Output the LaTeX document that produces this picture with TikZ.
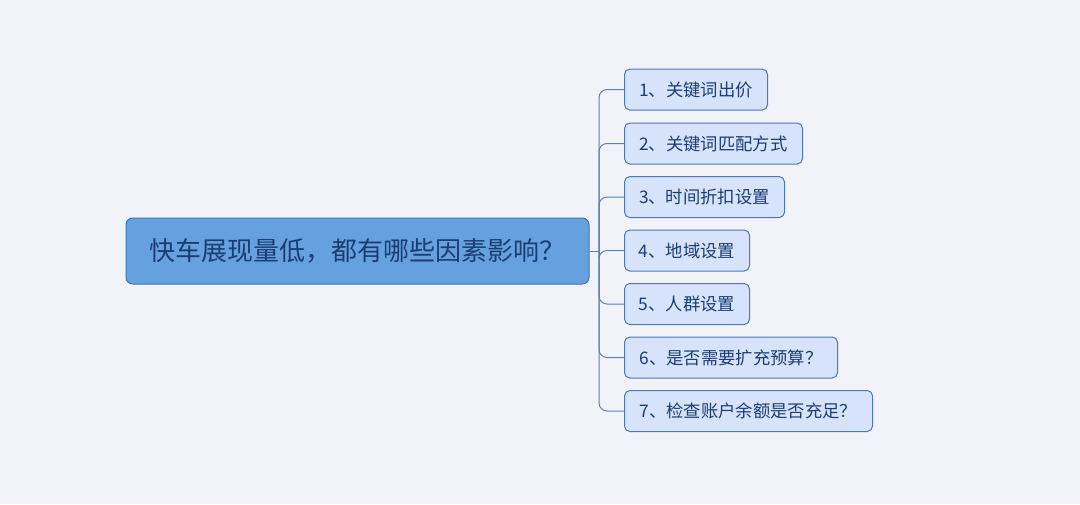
\documentclass[tikz,border=0pt]{standalone}
\usepackage{fontspec}
\setmainfont{Noto Sans CJK SC}
\usetikzlibrary{positioning}
\definecolor{bgcol}{HTML}{F2F3F8}
\definecolor{rootfill}{HTML}{64A1DE}
\definecolor{rootline}{HTML}{3F72B0}
\definecolor{leaffill}{HTML}{D6E3FA}
\definecolor{leafline}{HTML}{4C79B6}
\definecolor{textcol}{HTML}{1C3D72}
\definecolor{linkcol}{HTML}{5B80AE}

\begin{document}
\begin{tikzpicture}[x=0.75pt,y=-0.75pt,
  rootbox/.style={draw=rootline, fill=rootfill, line width=0.75pt, rounded corners=5pt,
    minimum width=347.25pt, minimum height=49.5pt, text=textcol, font=\fontsize{19.5pt}{21pt}\selectfont},
  leafbox/.style={draw=leafline, fill=leaffill, line width=0.75pt, rounded corners=4pt,
    minimum height=30.75pt, anchor=west, text=textcol, font=\fontsize{13pt}{15pt}\selectfont},
  link/.style={draw=linkcol, line width=0.75pt}]
\fill[bgcol] (0,0) rectangle (1080,504);
\node[rootbox] (root) at (357.5,251) {快车展现量低，都有哪些因素影响？};
\coordinate (hub) at (599,251);
\foreach \i/\y/\w/\t in {1/89.5/107.25/{1、关键词出价},
    2/143.5/133.5/{2、关键词匹配方式},
    3/197/120/{3、时间折扣设置},
    4/250.5/93.75/{4、地域设置},
    5/304/93.75/{5、人群设置},
    6/357.5/159.75/{6、是否需要扩充预算？},
    7/411/186/{7、检查账户余额是否充足？}} {
  \node[leafbox, minimum width=\w pt] (c\i) at (624,\y) {\t};
  \draw[link, rounded corners=6pt] (hub) |- (c\i.west);
}
\draw[link] (root.east) -- (hub);
\end{tikzpicture}
\end{document}
